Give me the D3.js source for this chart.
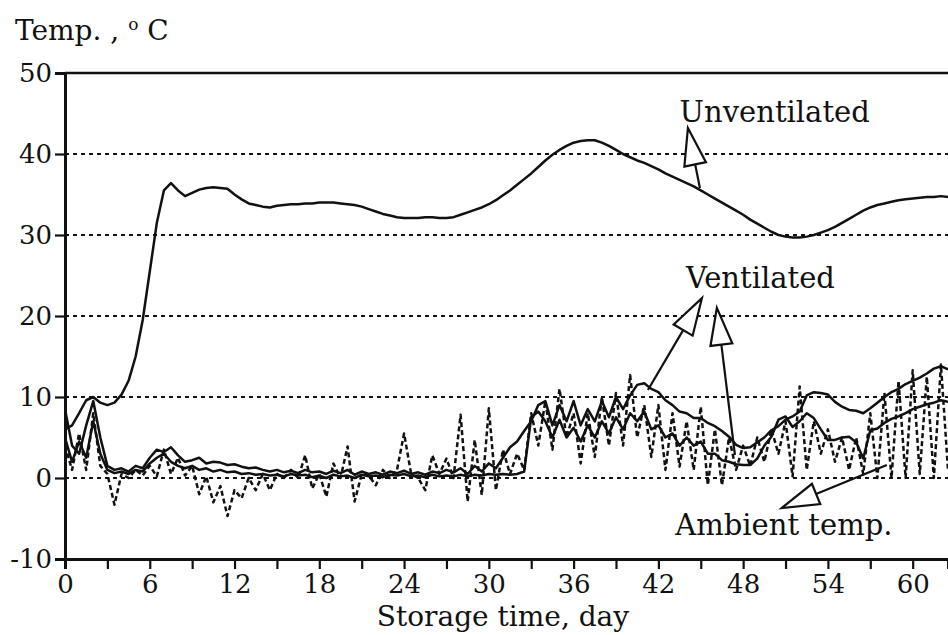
<!DOCTYPE html>
<html lang="en">
<head>
  <meta charset="UTF-8">
  <title>Storage temperature</title>
  <script src="https://d3js.org/d3.v7.min.js"></script>
  <style>
    body { margin: 0; background: #fff; }
    text { font-family: "DejaVu Serif", "Liberation Serif", serif; fill: #111; }
    .grid { stroke: #111; stroke-width: 2.2; stroke-dasharray: 4,4; }
    .curve { fill: none; stroke: #111; stroke-width: 2.5; stroke-linejoin: round; }
    .ambient { stroke-dasharray: 5,3; }
    .arrow { fill: #fff; stroke: #111; stroke-width: 2.2; stroke-linejoin: miter; }
  </style>
</head>
<body>
  <svg></svg>
  <script>
    // day step of the sampled series (0 .. 62.5)
    const step = 0.5;

    const unventilated = [
      6, 6.5, 8, 9.6, 10, 9.3, 9, 9.3, 10.3, 12, 15, 19.5, 25.5, 31.5, 35.5, 36.4,
      35.5, 34.8, 35.2, 35.6, 35.8, 35.9, 35.8, 35.7, 35, 34.4, 33.9, 33.7, 33.5, 33.4, 33.6, 33.7,
      33.8, 33.8, 33.9, 33.9, 34, 34, 34, 33.9, 33.8, 33.7, 33.5, 33.2, 32.9, 32.6, 32.4, 32.2,
      32.1, 32.1, 32.1, 32.2, 32.2, 32.1, 32.1, 32.2, 32.5, 32.8, 33.1, 33.4, 33.8, 34.3, 34.9, 35.5,
      36.2, 36.9, 37.6, 38.4, 39.2, 39.9, 40.5, 41, 41.4, 41.6, 41.7, 41.7, 41.4, 41, 40.5, 40,
      39.6, 39.2, 38.9, 38.5, 38.1, 37.6, 37.2, 36.8, 36.4, 36, 35.5, 35, 34.5, 34, 33.5, 33,
      32.5, 31.9, 31.4, 30.9, 30.4, 30, 29.8, 29.7, 29.7, 29.8, 30, 30.3, 30.6, 31, 31.5, 32,
      32.5, 33, 33.4, 33.7, 33.9, 34.1, 34.3, 34.4, 34.5, 34.6, 34.7, 34.7, 34.8, 34.7
    ];

    const ventilatedA = [
      8.5, 4, 3, 6.5, 9.5, 5, 1.5, 1, 1.2, 0.8, 1.5, 1.2, 2.5, 3.5, 3.2, 3.8,
      2.8, 2, 2.2, 2.5, 1.8, 2, 1.9, 1.6, 1.7, 1.4, 1.2, 1.3, 1, 0.8, 1, 0.7,
      0.9, 0.6, 1, 0.7, 0.8, 0.5, 0.9, 0.6, 1, 0.4, 0.8, 0.5, 0.7, 0.4, 0.8, 0.6,
      0.9, 0.5, 0.7, 0.4, 0.8, 0.6, 1, 0.7, 1.2, 0.5, 1.5, 0.8, 1.8, 1.2, 2.5, 3.8,
      4.5, 5.8, 7, 9, 9.5, 6.5, 9, 7, 9.5, 6.5, 8.5, 7, 9.5, 7.5, 10, 8.5,
      10.2, 11.5, 11.7, 11, 10.6, 9.6, 9, 8.2, 8, 7.4, 7.4, 6.8, 6.4, 5.8, 5.1, 4.1,
      3.7, 3.8, 4.4, 5, 5.9, 6.4, 7.2, 7.6, 8.2, 10.2, 10.6, 10.5, 10.3, 9.4, 8.8, 8.4,
      8.3, 8, 8.6, 9.3, 10, 10.6, 11, 11.6, 12, 12.4, 12.9, 13.5, 13.8, 13.4
    ];

    const ventilatedB = [
      5, 2, 4.5, 2.5, 7, 3, 1, 0.6, 0.8, 0.5, 1, 0.8, 1.8, 2.5, 3, 2,
      1.5, 1.2, 1.5, 1, 1.2, 0.8, 1, 0.7, 0.8, 0.5, 0.6, 0.4, 0.5, 0.3, 0.4, 0.2,
      0.5, 0.3, 0.4, 0.1, 0.3, 0, 0.4, 0.2, 0.3, 0, 0.4, 0.2, 0.3, 0.1, 0.4, 0.3,
      0.5, 0.2, 0.3, 0.1, 0.4, 0.2, 0.3, 0.2, 0.4, 0.2, 0.4, 0.3, 0.5, 0.4, 0.5, 0.4,
      0.5, 0.8, 7.5, 8.2, 7, 5, 7.2, 5, 6.2, 4.5, 6.5, 5, 7, 5.5, 7.5, 6,
      8, 7, 8.2, 6, 6.5, 5, 5.5, 4, 5, 4, 4.5, 3, 3, 2.2, 2, 1.7,
      1.6, 1.6, 2.4, 4, 5.1, 7.2, 7.6, 6.3, 7, 8, 7.4, 6, 4.7, 4.7, 5, 5.1,
      4.4, 2.4, 5.9, 6.1, 6.8, 7.3, 7.6, 8, 8.5, 8.8, 9.1, 9.3, 9.6, 9.4
    ];

    const ambient = [
      4, 1, 5.5, 1, 8, 1.5, 0.5, -3.3, 0.5, 0, 1, 0.3, 1.5, 0.2, 3.5, 0.5,
      2.5, 0.3, 1.5, -2, 0.2, -3, -1, -4.7, -1.5, -2.5, 0, -1.5, 0.5, -1.5, 0.5, 0,
      1, 0, 2.8, -1.3, 0.5, -2.3, 1.8, 0, 3.9, -2.9, 0.5, 0.3, -0.9, 1, 0, 1,
      5.5, 0.5, 0, -1.5, 2.8, 0.5, 2.4, 0, 7.8, -2.9, 4.7, -2.1, 8.6, -1.5, 3.5, 0.5,
      3, 1, 8, 4, 9.5, 3.5, 11, 5, 8, 1.8, 8, 2.6, 10, 4, 10.5, 4,
      12.7, 5, 9, 2.6, 9, 1, 8, 1.4, 7, 1, 8.8, -0.9, 6, -0.9, 5, 1,
      4, 1.5, 5, 2, 6, 3, 7, 0.2, 11.3, 1, 7, 3, 6, 2, 5, 1,
      5, 0.5, 8, 0, 10.5, 0, 12, 0, 13.3, 0.5, 12.5, 0, 14, 1
    ];

    const yTicks = [-10, 0, 10, 20, 30, 40, 50];
    const gridValues = [0, 10, 20, 30, 40];
    const xTicks = d3.range(0, 61, 3);

    // labels and arrows in data units: [day, temp]
    const labels = [
      { text: "Unventilated", at: [43.5, 44] },
      { text: "Ventilated", at: [43.95, 23.5] },
      { text: "Ambient temp.", at: [43.2, -7] }
    ];
    const arrows = [
      { from: [44.94, 35.8], to: [44.09, 43.2] },
      { from: [41.26, 10.86], to: [45.08, 22.2] },
      { from: [47.42, 2.84], to: [46.14, 21.0] },
      { from: [58.17, 1.6], to: [50.74, -3.7] }
    ];

    const width = 948, height = 635;
    const margin = { top: 73, right: 0, bottom: 76, left: 65 };

    const x = d3.scaleLinear().domain([0, 62.5]).range([margin.left, width - margin.right]);
    const y = d3.scaleLinear().domain([-10, 50]).range([height - margin.bottom, margin.top]);

    const svg = d3.select("svg").attr("width", width).attr("height", height);

    svg.append("clipPath").attr("id", "plot")
      .append("rect")
      .attr("x", x(0)).attr("y", y(50))
      .attr("width", x(62.5) - x(0)).attr("height", y(-10) - y(50));

    // grid
    svg.append("g").selectAll("line")
      .data(gridValues)
      .enter().append("line")
      .attr("class", "grid")
      .attr("x1", x(0)).attr("x2", x(62.5))
      .attr("y1", d => y(d)).attr("y2", d => y(d));

    // top frame line
    svg.append("line")
      .attr("x1", x(0)).attr("x2", x(62.5))
      .attr("y1", y(50)).attr("y2", y(50))
      .attr("stroke", "#111").attr("stroke-width", 2.5);

    // curves
    const line = d3.line()
      .x((d, i) => x(i * step))
      .y(d => y(d));

    const plot = svg.append("g").attr("clip-path", "url(#plot)");
    plot.append("path").attr("class", "curve ambient").attr("d", line(ambient));
    plot.append("path").attr("class", "curve").attr("d", line(ventilatedB));
    plot.append("path").attr("class", "curve").attr("d", line(ventilatedA));
    plot.append("path").attr("class", "curve").attr("d", line(unventilated));

    // axes
    const yAxis = d3.axisLeft(y).tickValues(yTicks).tickSize(10).tickPadding(3)
      .tickFormat(d => String(d));
    const gy = svg.append("g").attr("transform", `translate(${x(0)},0)`).call(yAxis);

    const xAxis = d3.axisBottom(x).tickValues(xTicks).tickSize(10).tickPadding(6)
      .tickFormat(d => d % 6 === 0 ? String(d) : "");
    const gx = svg.append("g").attr("transform", `translate(0,${y(-10)})`).call(xAxis);

    [gx, gy].forEach(g => {
      g.select(".domain").attr("stroke", "#111").attr("stroke-width", 3);
      g.selectAll(".tick line").attr("stroke", "#111").attr("stroke-width", 2.2);
      g.selectAll(".tick text")
        .attr("fill", "#111")
        .style("font-family", '"DejaVu Serif", serif')
        .style("font-size", "26px");
    });

    // axis titles
    const title = svg.append("text")
      .attr("x", 15).attr("y", 40)
      .style("font-size", "28px");
    title.append("tspan").text("Temp. ,  ");
    title.append("tspan").attr("dy", -10).style("font-size", "17px").text("o");
    title.append("tspan").attr("dy", 10).text(" C");

    svg.append("text")
      .attr("x", x(31)).attr("y", 626)
      .attr("text-anchor", "middle")
      .style("font-size", "28px")
      .text("Storage time, day");

    // annotations
    svg.append("g").selectAll("text")
      .data(labels)
      .enter().append("text")
      .attr("x", d => x(d.at[0]))
      .attr("y", d => y(d.at[1]))
      .style("font-size", "29px")
      .text(d => d.text);

    const headLen = 37, headHalf = 11;
    arrows.forEach(a => {
      const x0 = x(a.from[0]), y0 = y(a.from[1]);
      const x1 = x(a.to[0]), y1 = y(a.to[1]);
      const len = Math.hypot(x1 - x0, y1 - y0);
      const ux = (x1 - x0) / len, uy = (y1 - y0) / len;
      const bx = x1 - ux * headLen, by = y1 - uy * headLen;
      svg.append("line")
        .attr("x1", x0).attr("y1", y0).attr("x2", bx).attr("y2", by)
        .attr("stroke", "#111").attr("stroke-width", 2.2);
      svg.append("path")
        .attr("class", "arrow")
        .attr("d", `M${x1},${y1}L${bx - uy * headHalf},${by + ux * headHalf}L${bx + uy * headHalf},${by - ux * headHalf}Z`);
    });
  </script>
</body>
</html>
